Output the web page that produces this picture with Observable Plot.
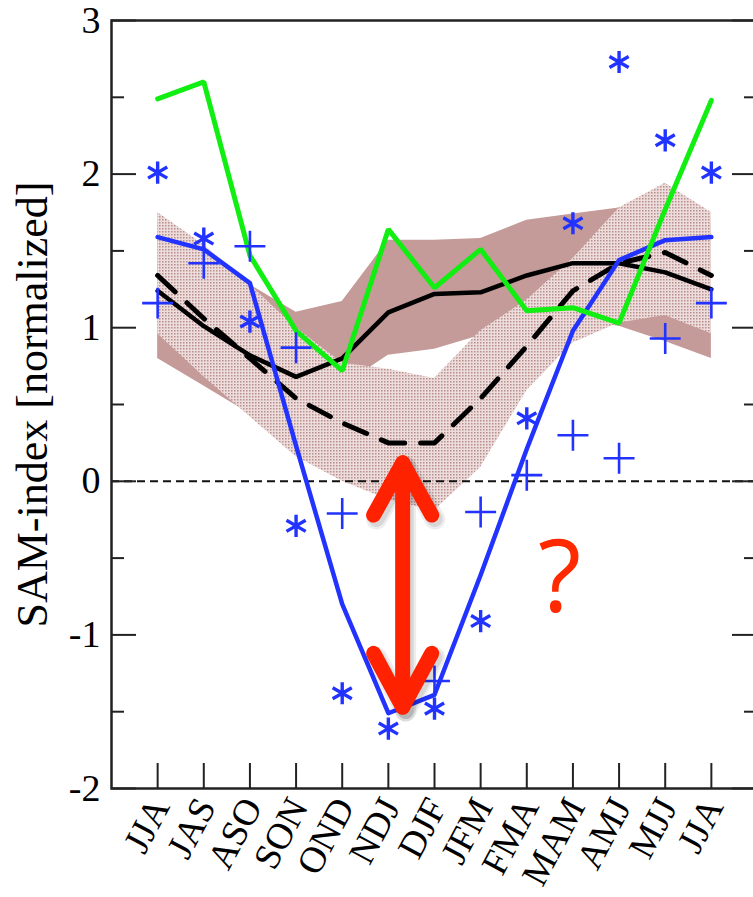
<!DOCTYPE html>
<html><head><meta charset="utf-8">
<script src="https://cdn.jsdelivr.net/npm/d3@7"></script>
<script src="https://cdn.jsdelivr.net/npm/@observablehq/plot@0.6"></script>
<style>
html,body{margin:0;padding:0;background:#fff;}
#chart svg{display:block;max-width:none;}
</style></head><body><div id="chart"></div>
<script>
// ---- data ----
const seasons = ["JJA","JAS","ASO","SON","OND","NDJ","DJF","JFM","FMA","MAM","AMJ","MJJ","JJA"];
const yTicksMajor = [-2, -1, 0, 1, 2, 3];
const yTicksMinor = [-1.5, -0.5, 0.5, 1.5, 2.5];
const yLabel = "SAM-index [normalized]";

const greenLine   = [2.49, 2.60, 1.47, 0.98, 0.72, 1.64, 1.26, 1.51, 1.11, 1.13, 1.03, 1.77, 2.48];
const blackSolid  = [1.24, 1.01, 0.82, 0.68, 0.80, 1.10, 1.22, 1.23, 1.34, 1.42, 1.42, 1.36, 1.25];
const blackDashed = [1.34, 1.06, 0.80, 0.54, 0.38, 0.25, 0.25, 0.54, 0.88, 1.24, 1.42, 1.49, 1.34];
const blueLine    = [1.59, 1.51, 1.29, 0.23, -0.80, -1.51, -1.39, -0.61, 0.21, 0.98, 1.44, 1.57, 1.59];
const blueStars   = [2.01, 1.58, 1.04, -0.29, -1.38, -1.61, -1.48, -0.91, 0.41, 1.68, 2.73, 2.22, 2.01];
const bluePlus    = [1.16, 1.42, 1.53, 0.87, -0.21, null, -1.30, -0.20, 0.04, 0.30, 0.15, 0.93, 1.16];

const solidBandLo = [0.80, 0.62, 0.44, 0.26, 0.62, 0.82, 0.86, 0.95, 1.00, 1.05, 1.01, 0.91, 0.80];
const solidBandHi = [1.68, 1.48, 1.28, 1.10, 1.17, 1.57, 1.57, 1.58, 1.70, 1.74, 1.78, 1.80, 1.68];
const hatchBandLo = [0.96, 0.68, 0.42, 0.16, 0.00, -0.12, -0.19, 0.09, 0.59, 0.90, 1.03, 1.08, 0.96];
const hatchBandHi = [1.75, 1.54, 1.28, 1.00, 0.77, 0.73, 0.67, 0.98, 1.18, 1.45, 1.78, 1.94, 1.75];

// annotation (red double arrow and question mark), in data units
const arrowX   = [5.31, 5.31,   4.68, 5.31, 5.94,   4.68, 5.31, 5.94];
const arrowY   = [0.12, -1.47,  -0.22, 0.12, -0.22, -1.12, -1.47, -1.12];
const arrowSeg = ["shaft","shaft","top","top","top","bottom","bottom","bottom"];
const qText = "?", qX = 8.71, qY = -0.64;

// ---- build ----
const idx = d3.range(seasons.length);
const arrowData = arrowX.map((x, i) => ({x, y: arrowY[i], seg: arrowSeg[i]}));
const plusIdx = idx.filter(i => bluePlus[i] != null);
const serif = "Liberation Serif, Times New Roman, serif";
const blue = "#2233ff";

const W = 753, H = 897, mL = 111, mR = -4, mT = 20, mB = 109;
const pw = W - mL - mR, ph = H - mT - mB;

const chart = Plot.plot({
  width: W, height: H,
  marginLeft: mL, marginRight: mR, marginTop: mT, marginBottom: mB,
  x: {domain: [-1, seasons.length], axis: null},
  y: {domain: [-2, 3], axis: null},
  style: {background: "white", overflow: "visible"},
  marks: [
    Plot.areaY(idx, {x: i => i, y1: i => solidBandLo[i], y2: i => solidBandHi[i], fill: "#c49b98"}),
    Plot.areaY(idx, {x: i => i, y1: i => hatchBandLo[i], y2: i => hatchBandHi[i], fill: "url(#hatch)"}),
    Plot.ruleY([0], {stroke: "#111", strokeWidth: 2, strokeDasharray: "8,5"}),
    // ticks (inward)
    Plot.tickY(yTicksMajor, {y: d => d, stroke: "#222", strokeWidth: 2, insetRight: pw - 25}),
    Plot.tickY(yTicksMinor, {y: d => d, stroke: "#222", strokeWidth: 2, insetRight: pw - 13}),
    Plot.tickY(yTicksMajor, {y: d => d, stroke: "#222", strokeWidth: 2, insetLeft: pw - 25}),
    Plot.tickY(yTicksMinor, {y: d => d, stroke: "#222", strokeWidth: 2, insetLeft: pw - 13}),
    Plot.tickX(idx, {x: i => i, stroke: "#222", strokeWidth: 2, insetTop: ph - 25}),
    Plot.frame({stroke: "#222", strokeWidth: 2.5}),
    // lines
    Plot.line(idx, {x: i => i, y: i => blackSolid[i], stroke: "#000", strokeWidth: 4.5, strokeLinejoin: "round"}),
    Plot.line(idx, {x: i => i, y: i => blackDashed[i], stroke: "#000", strokeWidth: 5, strokeDasharray: "24,16"}),
    Plot.line(idx, {x: i => i, y: i => blueLine[i], stroke: blue, strokeWidth: 4.5, strokeLinejoin: "round"}),
    Plot.line(idx, {x: i => i, y: i => greenLine[i], stroke: "#11ee11", strokeWidth: 5, strokeLinejoin: "miter"}),
    // markers
    Plot.dot(idx, {x: i => i, y: i => blueStars[i], symbol: "asterisk", r: 10.5, stroke: blue, strokeWidth: 3.4}),
    Plot.dot(plusIdx, {x: i => i, y: i => bluePlus[i], symbol: "plus", r: 10, stroke: blue, strokeWidth: 2.6}),
    // axis labels
    Plot.text(yTicksMajor, {y: d => d, text: d => String(d), frameAnchor: "left", textAnchor: "end", dx: -11, fontSize: 38, fontFamily: serif, fill: "#000"}),
    Plot.text([yLabel], {frameAnchor: "left", textAnchor: "middle", rotate: -90, dx: -79, fontSize: 44, fontFamily: serif, fill: "#000"}),
    Plot.text(idx, {x: i => i, text: i => seasons[i], frameAnchor: "bottom", rotate: -62, textAnchor: "end", dx: 13, dy: 18, fontSize: 37, fontFamily: serif, fill: "#000"}),
    // annotation: soft shadow then arrow
    Plot.line(arrowData, {x: "x", y: "y", z: "seg", stroke: "#000", strokeOpacity: 0.07, strokeWidth: 21, strokeLinecap: "round", strokeLinejoin: "round", dx: 3, dy: 4}),
    Plot.line(arrowData, {x: "x", y: "y", z: "seg", stroke: "#000", strokeOpacity: 0.09, strokeWidth: 16, strokeLinecap: "round", strokeLinejoin: "round", dx: 3, dy: 4}),
    Plot.line(arrowData, {x: "x", y: "y", z: "seg", stroke: "#ff2200", strokeWidth: 15, strokeLinecap: "round", strokeLinejoin: "round"}),
    Plot.text([{x: qX, y: qY, t: qText}], {x: "x", y: "y", text: "t", fill: "#ff2a00", fontSize: 100, fontFamily: "Open Sans, sans-serif"})
  ]
});

const svg = d3.select(chart);
const pat = svg.insert("defs", ":first-child").append("pattern")
  .attr("id", "hatch").attr("patternUnits", "userSpaceOnUse").attr("width", 3).attr("height", 3);
pat.append("rect").attr("width", 3).attr("height", 3).attr("fill", "#ecdcdb");
pat.append("rect").attr("width", 1.5).attr("height", 1.5).attr("fill", "#b98f8c");

document.getElementById("chart").appendChild(chart);
</script></body></html>
